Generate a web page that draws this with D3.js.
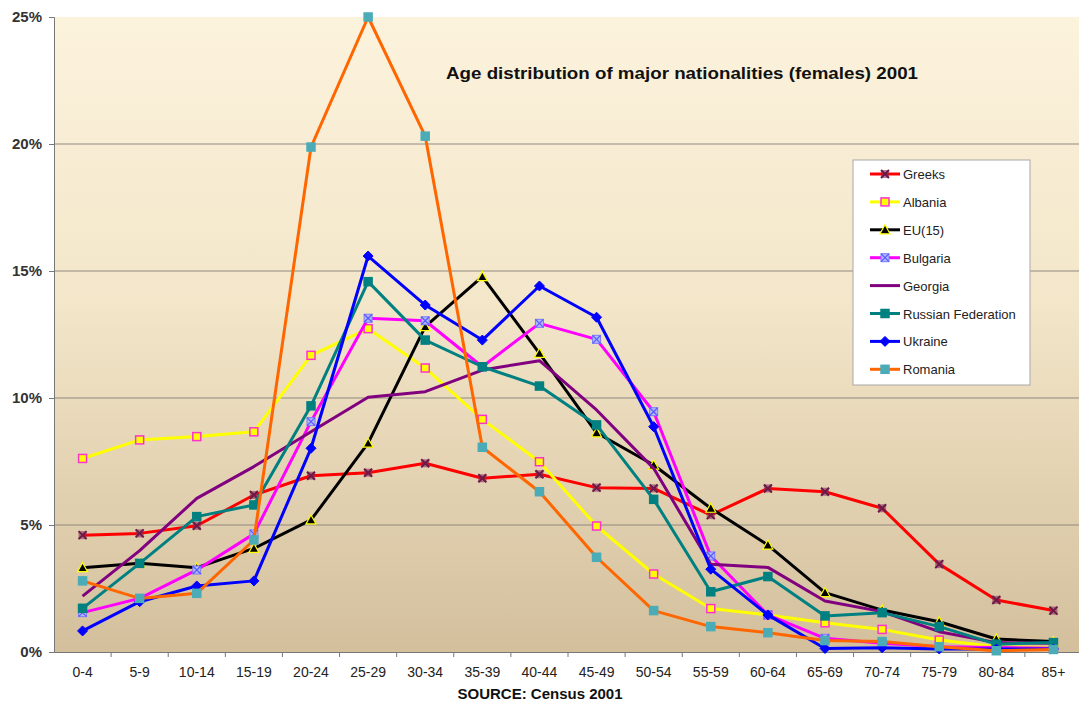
<!DOCTYPE html>
<html><head><meta charset="utf-8">
<script src="https://cdn.jsdelivr.net/npm/d3@7"></script>
<style>body{margin:0;background:#fff}svg{display:block}text{font-family:"Liberation Sans",Arial,sans-serif}</style>
</head><body><svg id="c" width="1079" height="704"></svg>
<script>
const categories = ["0-4","5-9","10-14","15-19","20-24","25-29","30-34","35-39","40-44","45-49","50-54","55-59","60-64","65-69","70-74","75-79","80-84","85+"];
const yTicks = [0,5,10,15,20,25];
const greeks   = [4.6,4.67,4.97,6.18,6.94,7.06,7.43,6.84,7.0,6.47,6.44,5.39,6.44,6.31,5.66,3.46,2.05,1.63];
const albania  = [7.62,8.35,8.48,8.67,11.68,12.73,11.18,9.16,7.49,4.96,3.07,1.71,1.46,1.15,0.89,0.47,0.21,0.18];
const eu15     = [3.32,3.49,3.32,4.08,5.2,8.22,12.81,14.78,11.76,8.63,7.36,5.66,4.21,2.34,1.65,1.19,0.51,0.41];
const bulgaria = [1.55,2.11,3.23,4.65,9.07,13.14,13.04,11.23,12.94,12.31,9.46,3.78,1.46,0.54,0.34,0.21,0.18,0.15];
const georgia  = [2.2,3.99,6.05,7.3,8.67,10.03,10.25,11.1,11.47,9.53,7.23,3.45,3.33,2.01,1.59,0.8,0.37,0.34];
const russia   = [1.72,3.49,5.33,5.79,9.69,14.58,12.28,11.23,10.47,8.94,6.01,2.37,2.97,1.42,1.55,1.0,0.31,0.37];
const ukraine  = [0.83,1.98,2.6,2.8,8.02,15.59,13.66,12.28,14.41,13.18,8.87,3.26,1.46,0.14,0.17,0.12,0.12,0.12];
const romania  = [2.8,2.11,2.31,4.41,19.88,25.0,20.31,8.06,6.31,3.73,1.63,1.0,0.76,0.45,0.41,0.21,0.05,0.1];
const seriesNames = ["Greeks","Albania","EU(15)","Bulgaria","Georgia","Russian Federation","Ukraine","Romania"];
const seriesValues = [greeks,albania,eu15,bulgaria,georgia,russia,ukraine,romania];

const styles = [
  {line:"#FF0000", marker:"x",   mFill:"#6b1a4a", mStroke:"#6b1a4a"},
  {line:"#FFFF00", marker:"square", mFill:"#FFFF00", mStroke:"#FF33CC"},
  {line:"#000000", marker:"tri", mFill:"#000000", mStroke:"#FFFF00"},
  {line:"#FF00FF", marker:"xcirc", mFill:"#B0B8FF", mStroke:"#7A7AFF"},
  {line:"#800080", marker:"none"},
  {line:"#008080", marker:"square", mFill:"#008080", mStroke:"#008080"},
  {line:"#0000FF", marker:"diamond", mFill:"#0000FF", mStroke:"#0000FF"},
  {line:"#FF6600", marker:"square", mFill:"#4BACB8", mStroke:"#4BACB8"}
];

const svg = d3.select("#c");
const L=54, R=1082, T=17, B=652;
const x = d3.scaleBand().domain(categories).range([L,R]);
const y = d3.scaleLinear().domain([0,25]).range([B,T]);

const defs = svg.append("defs");
const g = defs.append("linearGradient").attr("id","bg").attr("x1",0).attr("y1",0).attr("x2",0).attr("y2",1);
g.append("stop").attr("offset","0%").attr("stop-color","#FCF3DD");
g.append("stop").attr("offset","45%").attr("stop-color","#F3E6C9");
g.append("stop").attr("offset","100%").attr("stop-color","#D3BF9C");
svg.append("rect").attr("x",L).attr("y",T).attr("width",1079-L).attr("height",B-T).attr("fill","url(#bg)");

// gridlines
svg.append("g").selectAll("line").data(yTicks.filter(d=>d>0 && d<25)).join("line")
  .attr("x1",L).attr("x2",1079).attr("y1",d=>y(d)).attr("y2",d=>y(d))
  .attr("stroke","#8f8a80").attr("stroke-width",1);

// y axis
const ya = svg.append("g").attr("transform",`translate(${L},0)`)
  .call(d3.axisLeft(y).tickValues(yTicks).tickFormat(d=>d+"%").tickSize(5).tickPadding(7));
ya.select(".domain").attr("stroke","#777");
ya.selectAll(".tick line").attr("stroke","#777");
ya.selectAll("text").attr("font-size",15).attr("font-weight","bold").attr("fill","#333").attr("font-family","Liberation Sans, Arial, sans-serif");

// x axis
const xa = svg.append("g").attr("transform",`translate(0,${B})`)
  .call(d3.axisBottom(x).tickSize(0).tickPadding(15));
xa.select(".domain").attr("stroke","#777");
xa.selectAll("text").attr("font-size",14).attr("fill","#222").attr("font-family","Liberation Sans, Arial, sans-serif");
svg.append("g").selectAll("line").data(categories.slice(1)).join("line")
  .attr("x1",d=>x(d)).attr("x2",d=>x(d)).attr("y1",B).attr("y2",B+5).attr("stroke","#777");

const cx = d => x(d)+x.bandwidth()/2;
const line = d3.line().x((d,i)=>cx(categories[i])).y(d=>y(d));

function drawMarker(sel, st, px, py){
  const s=4;
  if(st.marker==="square"){
    sel.append("rect").attr("x",px-s).attr("y",py-s).attr("width",2*s).attr("height",2*s)
      .attr("fill",st.mFill).attr("stroke",st.mStroke).attr("stroke-width",1.5);
  } else if(st.marker==="x"){
    sel.append("rect").attr("x",px-s).attr("y",py-s).attr("width",2*s).attr("height",2*s).attr("fill","#8a2a55").attr("opacity",0.6);
    sel.append("path").attr("d",`M${px-s},${py-s}L${px+s},${py+s}M${px-s},${py+s}L${px+s},${py-s}`)
      .attr("stroke",st.mStroke).attr("stroke-width",2);
  } else if(st.marker==="tri"){
    sel.append("path").attr("d",`M${px},${py-5}L${px+5},${py+4}L${px-5},${py+4}Z`)
      .attr("fill",st.mFill).attr("stroke",st.mStroke).attr("stroke-width",1.2);
  } else if(st.marker==="xcirc"){
    sel.append("rect").attr("x",px-s).attr("y",py-s).attr("width",2*s).attr("height",2*s)
      .attr("fill",st.mFill).attr("stroke",st.mStroke).attr("stroke-width",1);
    sel.append("path").attr("d",`M${px-s},${py-s}L${px+s},${py+s}M${px-s},${py+s}L${px+s},${py-s}`)
      .attr("stroke","#5a5aff").attr("stroke-width",1.2);
  } else if(st.marker==="diamond"){
    sel.append("path").attr("d",`M${px},${py-5}L${px+5},${py}L${px},${py+5}L${px-5},${py}Z`)
      .attr("fill",st.mFill).attr("stroke",st.mStroke);
  }
}

seriesValues.forEach((vals,k)=>{
  const st=styles[k];
  const gg = svg.append("g");
  gg.append("path").datum(vals).attr("d",line).attr("fill","none").attr("stroke",st.line)
    .attr("stroke-width",3).attr("stroke-linejoin","round");
  if(st.marker!=="none") vals.forEach((v,i)=>drawMarker(gg, st, cx(categories[i]), y(v)));
});

// title
svg.append("text").attr("x",446).attr("y",79).attr("font-size",17)
  .attr("font-weight","bold").attr("fill","#111")
  .attr("textLength",472).attr("lengthAdjust","spacingAndGlyphs")
  .text("Age distribution of major nationalities (females) 2001");
svg.append("text").attr("x",540).attr("y",699).attr("text-anchor","middle").attr("font-size",15)
  .attr("font-weight","bold").attr("fill","#111").text("SOURCE: Census 2001");

// legend
const lg = svg.append("g");
lg.append("rect").attr("x",853).attr("y",160).attr("width",177).attr("height",225)
  .attr("fill","#ffffff").attr("stroke","#a8a8a8");
seriesNames.forEach((n,k)=>{
  const ly = 174 + k*27.9, st=styles[k];
  lg.append("line").attr("x1",870).attr("x2",900).attr("y1",ly).attr("y2",ly).attr("stroke",st.line).attr("stroke-width",3);
  if(st.marker!=="none") drawMarker(lg, st, 885, ly);
  lg.append("text").attr("x",903).attr("y",ly+5).attr("font-size",13).attr("fill","#222").text(n);
});
</script></body></html>
